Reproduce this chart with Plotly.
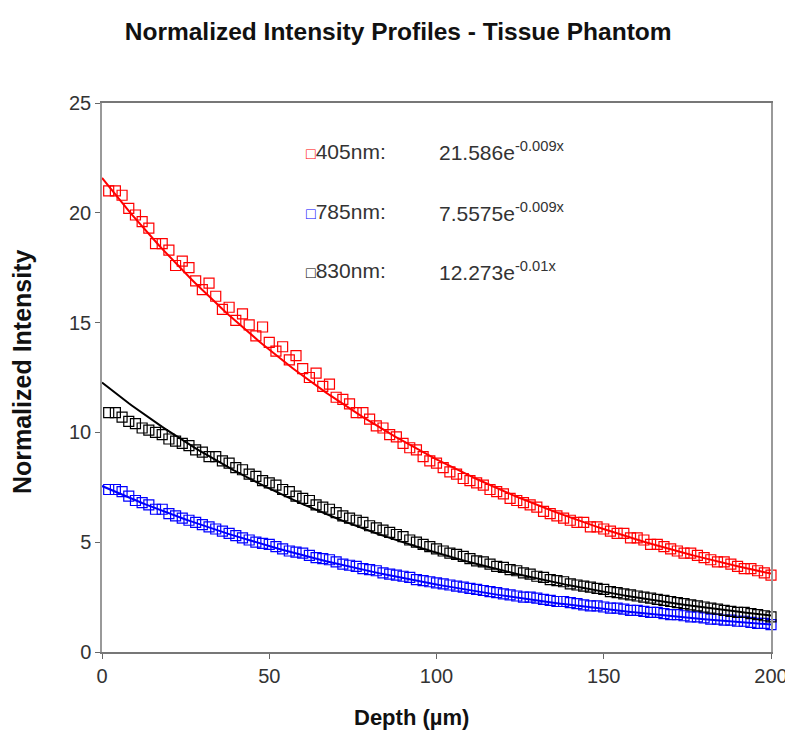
import numpy as np
import plotly.graph_objects as go

depth = [2, 4, 6, 8, 10, 12, 14, 16, 18, 20, 22, 24, 26, 28, 30, 32, 34, 36, 38, 40,
         42, 44, 46, 48, 50, 52, 54, 56, 58, 60, 62, 64, 66, 68, 70, 72, 74, 76, 78, 80,
         82, 84, 86, 88, 90, 92, 94, 96, 98, 100, 102, 104, 106, 108, 110, 112, 114, 116, 118, 120,
         122, 124, 126, 128, 130, 132, 134, 136, 138, 140, 142, 144, 146, 148, 150, 152, 154, 156, 158, 160,
         162, 164, 166, 168, 170, 172, 174, 176, 178, 180, 182, 184, 186, 188, 190, 192, 194, 196, 198, 200]

i405 = [21.0, 21.0, 20.8, 20.2, 19.9, 19.6, 19.3, 18.6, 18.6, 18.3, 17.6, 17.8, 17.5, 16.9, 16.5, 16.8, 16.2, 15.6, 15.7, 15.1,
        15.4, 14.9, 14.4, 14.8, 14.1, 13.7, 13.9, 13.3, 13.5, 12.9, 12.5, 12.7, 12.1, 12.2, 11.6, 11.5, 11.3, 10.9, 10.9, 10.6,
        10.3, 10.2, 9.9, 9.8, 9.5, 9.3, 9.2, 8.9, 8.7, 8.6, 8.4, 8.2, 8.1, 7.9, 7.8, 7.7, 7.6, 7.4, 7.3, 7.2,
        7.0, 6.9, 6.8, 6.7, 6.6, 6.4, 6.3, 6.2, 6.1, 6.0, 5.9, 5.9, 5.7, 5.7, 5.6, 5.5, 5.4, 5.4, 5.2, 5.2,
        5.1, 4.9, 4.9, 4.8, 4.7, 4.6, 4.5, 4.5, 4.4, 4.3, 4.2, 4.1, 4.1, 4.0, 3.9, 3.8, 3.8, 3.7, 3.6, 3.5]

i785 = [7.4, 7.4, 7.3, 7.1, 6.9, 6.8, 6.7, 6.5, 6.5, 6.3, 6.2, 6.1, 6.0, 5.9, 5.8, 5.7, 5.6, 5.5, 5.4, 5.3,
        5.2, 5.1, 5.0, 4.95, 4.9, 4.8, 4.7, 4.6, 4.55, 4.5, 4.4, 4.3, 4.25, 4.2, 4.1, 4.0, 3.95, 3.9, 3.8, 3.75,
        3.7, 3.6, 3.55, 3.5, 3.45, 3.4, 3.3, 3.25, 3.2, 3.15, 3.1, 3.05, 3.0, 2.95, 2.9, 2.85, 2.8, 2.75, 2.7, 2.65,
        2.6, 2.55, 2.5, 2.5, 2.45, 2.4, 2.35, 2.3, 2.3, 2.25, 2.2, 2.15, 2.1, 2.1, 2.05, 2.0, 2.0, 1.95, 1.9, 1.9,
        1.85, 1.8, 1.8, 1.75, 1.7, 1.7, 1.65, 1.6, 1.6, 1.55, 1.5, 1.5, 1.45, 1.45, 1.4, 1.4, 1.35, 1.3, 1.3, 1.25]

i830 = [10.9, 10.9, 10.7, 10.5, 10.4, 10.2, 10.1, 10.0, 9.9, 9.7, 9.6, 9.5, 9.4, 9.2, 9.1, 8.9, 8.9, 8.7, 8.6, 8.4,
        8.3, 8.1, 8.0, 7.8, 7.7, 7.6, 7.4, 7.3, 7.1, 7.0, 6.9, 6.7, 6.6, 6.5, 6.35, 6.2, 6.1, 6.0, 5.9, 5.75,
        5.65, 5.55, 5.45, 5.35, 5.25, 5.1, 5.0, 4.9, 4.8, 4.7, 4.6, 4.5, 4.45, 4.35, 4.25, 4.15, 4.1, 4.0, 3.9, 3.85,
        3.75, 3.7, 3.6, 3.55, 3.45, 3.4, 3.3, 3.25, 3.2, 3.1, 3.05, 3.0, 2.95, 2.9, 2.85, 2.75, 2.7, 2.65, 2.6, 2.55,
        2.5, 2.45, 2.4, 2.35, 2.3, 2.25, 2.2, 2.15, 2.1, 2.05, 2.0, 1.95, 1.9, 1.85, 1.8, 1.8, 1.75, 1.7, 1.65, 1.6]

# exponential trendline coefficients as printed on the chart
wavelengths = ["405nm", "785nm", "830nm"]
fit_a = [21.586, 7.5575, 12.273]
fit_b = [-0.009, -0.009, -0.01]
fit_labels = ["21.586e<sup>-0.009x</sup>", "7.5575e<sup>-0.009x</sup>", "12.273e<sup>-0.01x</sup>"]
colors = ["#ff0000", "#0000ff", "#000000"]
series = [i405, i785, i830]

fig = go.Figure()

for vals, c in zip(series, colors):
    fig.add_trace(go.Scatter(x=depth, y=vals, mode="markers", cliponaxis=False,
                             marker=dict(symbol="square-open", size=10, color=c, line=dict(width=1.2, color=c))))

xfit = np.linspace(0, 200, 201)
for a, b, c in zip(fit_a, fit_b, colors):
    fig.add_trace(go.Scatter(x=xfit, y=a * np.exp(b * xfit), mode="lines",
                             line=dict(color=c, width=2)))

fnt = "Liberation Sans, Arial"
label_y = [22.8, 20.05, 17.35]
for name, eq, c, ly in zip(wavelengths, fit_labels, colors, label_y):
    fig.add_annotation(x=60.5, y=ly, xref="x", yref="y", xanchor="left", showarrow=False,
                       text=f"<span style='color:{c};font-size:16px'>□</span>{name}:",
                       font=dict(family=fnt, size=21, color="#333"))
    fig.add_annotation(x=100, y=ly, xref="x", yref="y", xanchor="left", showarrow=False,
                       text=eq, font=dict(family=fnt, size=21, color="#333"))

# axis titles placed as in the reference
fig.add_annotation(x=0.463, y=-0.12, xref="paper", yref="paper", showarrow=False,
                   xanchor="center", yanchor="middle",
                   text="<b>Depth (µm)</b>", font=dict(family=fnt, size=22, color="#111"))
fig.add_annotation(x=-0.1195, y=0.51, xref="paper", yref="paper", showarrow=False, textangle=-90,
                   xanchor="center", yanchor="middle",
                   text="<b>Normalized Intensity</b>", font=dict(family=fnt, size=25, color="#111"))

# page has an 8px body margin, so the figure is sized to fit inside the window
fig.update_layout(
    width=785, height=724,
    margin=dict(l=94, r=22, t=95, b=80),
    paper_bgcolor="white", plot_bgcolor="white",
    showlegend=False,
    font=dict(family=fnt, color="#333"),
    title=dict(text="<b>Normalized Intensity Profiles - Tissue Phantom</b>",
               x=0.497, xanchor="center", y=0.967, yanchor="middle",
               font=dict(size=24.5, color="#111")),
)
fig.update_xaxes(range=[0, 200], tickvals=[0, 50, 100, 150, 200], ticks="outside", ticklen=5,
                 tickcolor="#666", showline=True, linecolor="#777", linewidth=2, mirror=True,
                 showgrid=False, zeroline=False, tickfont=dict(size=20, color="#333"),
                 automargin=False)
fig.update_yaxes(range=[0, 25], tickvals=[0, 5, 10, 15, 20, 25], ticks="outside", ticklen=5,
                 tickcolor="#666", showline=True, linecolor="#999", linewidth=1.5, mirror=True,
                 showgrid=False, zeroline=False, tickfont=dict(size=20, color="#333"),
                 automargin=False)

fig.write_html("out.html")
